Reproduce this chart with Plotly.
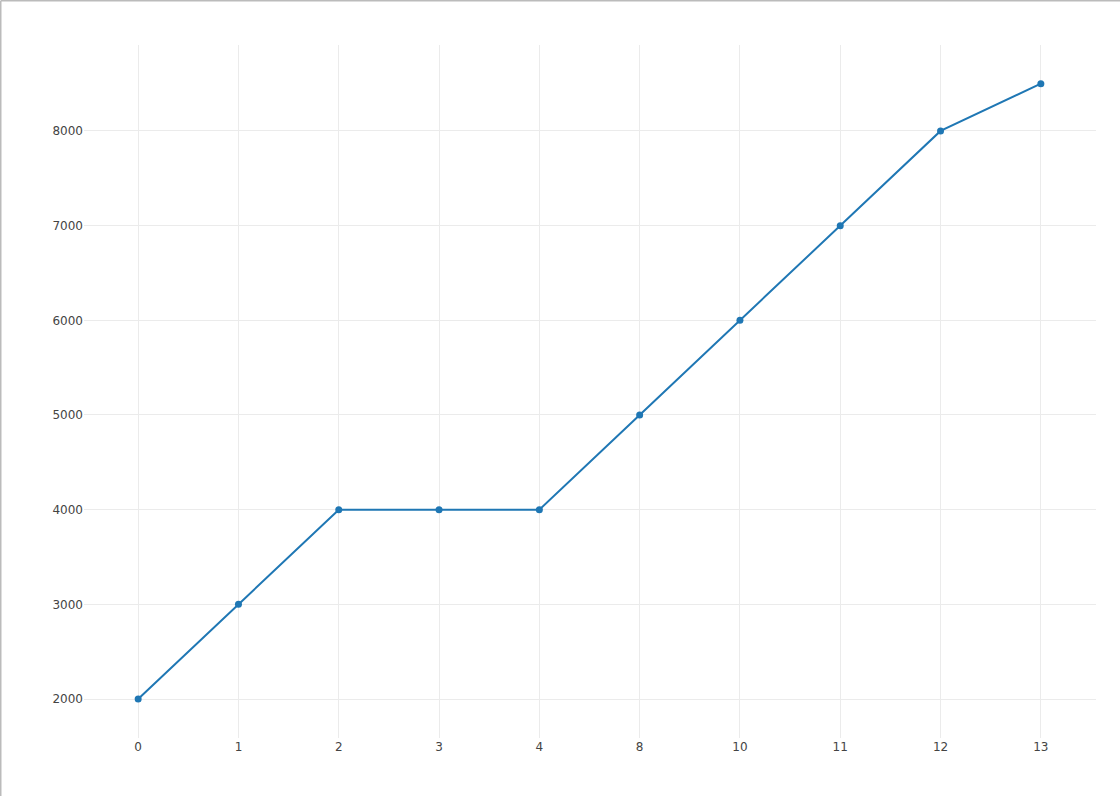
import plotly.graph_objects as go

# categories (evenly spaced, so categorical)
x_labels = ["0", "1", "2", "3", "4", "8", "10", "11", "12", "13"]
y_values = [2000, 3000, 4000, 4000, 4000, 5000, 6000, 7000, 8000, 8500]

W, H = 1120, 796
ML, MR, MT, MB = 84, 24, 45, 58
pw, ph = W - ML - MR, H - MT - MB

fig = go.Figure(
    go.Scatter(
        x=x_labels, y=y_values, mode="lines+markers",
        line=dict(color="#1f77b4", width=2),
        marker=dict(color="#1f77b4", size=7),
        showlegend=False,
    )
)

# page border on top and left edges
bx = -(ML - 0.75) / pw
by = 1 + (MT - 0.75) / ph
fig.add_shape(type="line", xref="paper", yref="paper", x0=bx, x1=1 + MR / pw,
              y0=by, y1=by, line=dict(color="#bbbbbb", width=1.5))
fig.add_shape(type="line", xref="paper", yref="paper", x0=bx, x1=bx,
              y0=-MB / ph, y1=by, line=dict(color="#bbbbbb", width=1.5))

fig.update_layout(
    width=W, height=H,
    margin=dict(l=ML, r=MR, t=MT, b=MB),
    paper_bgcolor="white", plot_bgcolor="white",
    font=dict(family="DejaVu Sans, Verdana, sans-serif", size=12, color="#444"),
)
fig.update_xaxes(type="category", showgrid=True, gridcolor="#ebebeb",
                 gridwidth=1, zeroline=False, showline=False, ticks="",
                 range=[-0.54, 9.55])
fig.update_yaxes(showgrid=True, gridcolor="#ebebeb", zeroline=False,
                 showline=False, range=[1588, 8908], dtick=1000)

fig.write_html("out.html", config={"displayModeBar": False},
               post_script="document.body.style.margin='0';")
